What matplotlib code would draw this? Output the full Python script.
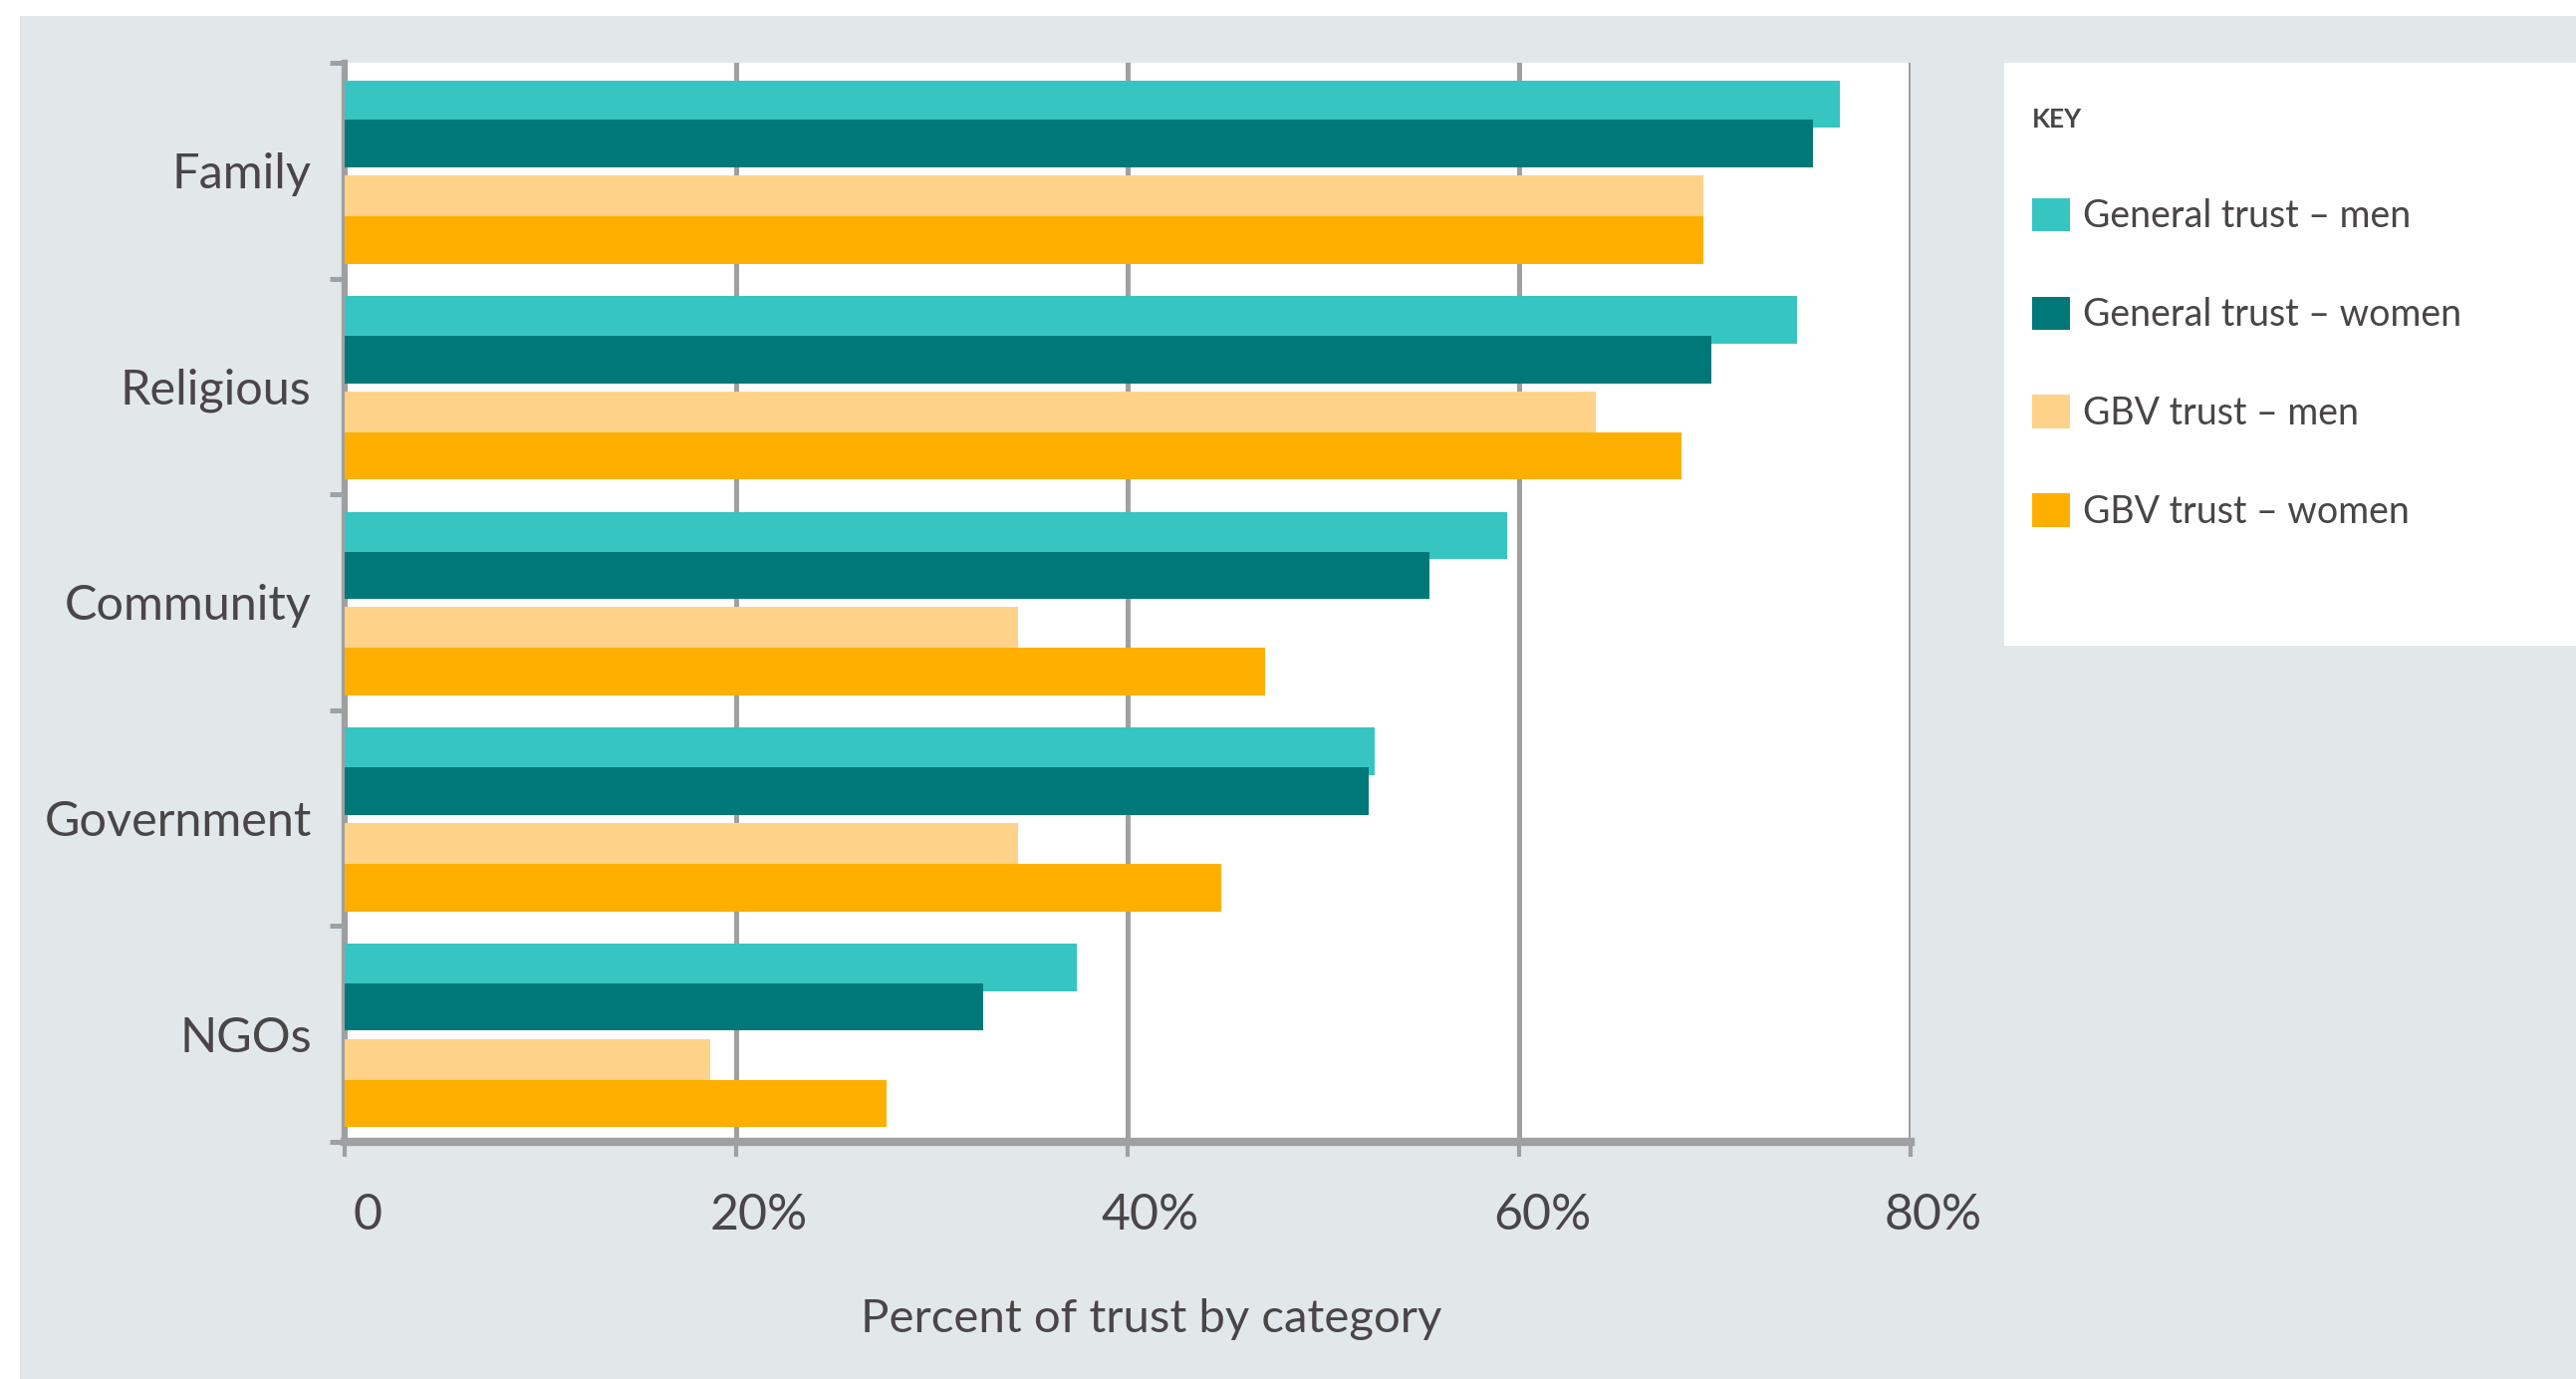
import matplotlib
matplotlib.use("Agg")
import matplotlib.pyplot as plt
import matplotlib.transforms as mtransforms
from matplotlib.patches import Rectangle, Patch
import numpy as np

plt.rcParams['font.family'] = ['Lato', 'DejaVu Sans']

categories = ["Family", "Religious", "Community", "Government", "NGOs"]
series_names = ["General trust – men", "General trust – women", "GBV trust – men", "GBV trust – women"]
general_men = [76.4, 74.2, 59.4, 52.6, 37.4]
general_women = [75.0, 69.8, 55.4, 52.3, 32.6]
gbv_men = [69.4, 63.9, 34.4, 34.4, 18.7]
gbv_women = [69.4, 68.3, 47.0, 44.8, 27.7]
xticks = [0, 20, 40, 60, 80]
xtick_labels = ["0", "20%", "40%", "60%", "80%"]
xlabel = "Percent of trust by category"
legend_title = "KEY"

colors = ["#37C5C2", "#00787A", "#FFD28A", "#FFAF00"]
offsets = [0.191, 0.375, 0.633, 0.822]
bar_h = 0.22
text_color = "#4A4547"
grid_color = "#A0A0A0"
bg = "#E2E8EA"

W, H = 2586, 1384
fig = plt.figure(figsize=(W / 100, H / 100), dpi=100)
fig.patch.set_facecolor("white")
fig.patches.append(Rectangle((20 / W, 0), 1 - 20 / W, 1 - 16 / H, transform=fig.transFigure,
                             facecolor=bg, edgecolor="none", zorder=-10))
# legend white box
fig.patches.append(Rectangle((2012 / W, 1 - 648 / H), 1 - 2012 / W, (648 - 63) / H,
                             transform=fig.transFigure, facecolor="white", edgecolor="none", zorder=-5))

left, right, top, bottom = 346 / W, 1918 / W, 1 - 63 / H, 1 - 1146 / H
ax = fig.add_axes([left, bottom, right - left, top - bottom])
ax.set_facecolor("white")

y = np.arange(len(categories))
data = [general_men, general_women, gbv_men, gbv_women]
for vals, off, c, name in zip(data, offsets, colors, series_names):
    ax.barh(y + off, vals, height=bar_h, color=c, edgecolor="none", label=name, zorder=3)

ax.set_xlim(0, 80)
ax.set_ylim(len(categories), 0)
ax.set_xticks(xticks)
ax.set_xticklabels(xtick_labels, fontsize=36, color=text_color)
ax.grid(axis="x", color=grid_color, linewidth=3.6, zorder=1)
ax.set_axisbelow(True)

ax.set_yticks(np.arange(len(categories) + 1))
ax.set_yticklabels([])
ax.set_yticks(y + 0.5, minor=True)
ax.set_yticklabels(categories, minor=True, fontsize=35, color=text_color)
ax.tick_params(axis="y", which="minor", length=0, pad=24)
ax.tick_params(axis="y", which="major", length=11, width=3.6, color=grid_color)
ax.tick_params(axis="x", which="major", length=11, width=3, color=grid_color, pad=26)

offset = mtransforms.ScaledTranslation(23 / 100, 0, fig.dpi_scale_trans)
for lab in ax.get_xticklabels():
    lab.set_transform(lab.get_transform() + offset)

for s in ["top", "right"]:
    ax.spines[s].set_visible(False)
ax.spines["left"].set_color(grid_color)
ax.spines["left"].set_linewidth(4.5)
ax.spines["bottom"].set_color(grid_color)
ax.spines["bottom"].set_linewidth(6)

ax.set_xlabel(xlabel, fontsize=34, color=text_color, labelpad=42)
ax.xaxis.set_label_coords((1156 - 346) / (1918 - 346), -0.145)

handles = [Patch(facecolor=c, edgecolor="none") for c in colors]
leg = fig.legend(handles, series_names, loc="upper left",
                 bbox_to_anchor=(2040 / W, 1 - 108 / H), frameon=False,
                 fontsize=27, title=legend_title, alignment="left",
                 handlelength=1.0, handleheight=1.0, labelspacing=1.66,
                 handletextpad=0.35, borderaxespad=0, borderpad=0)
leg.get_title().set_fontsize(19)
leg.get_title().set_fontweight("bold")
leg.get_title().set_color(text_color)
for t in leg.get_texts():
    t.set_color(text_color)
leg._legend_box.sep = 48

fig.savefig("out.png", dpi=100)
